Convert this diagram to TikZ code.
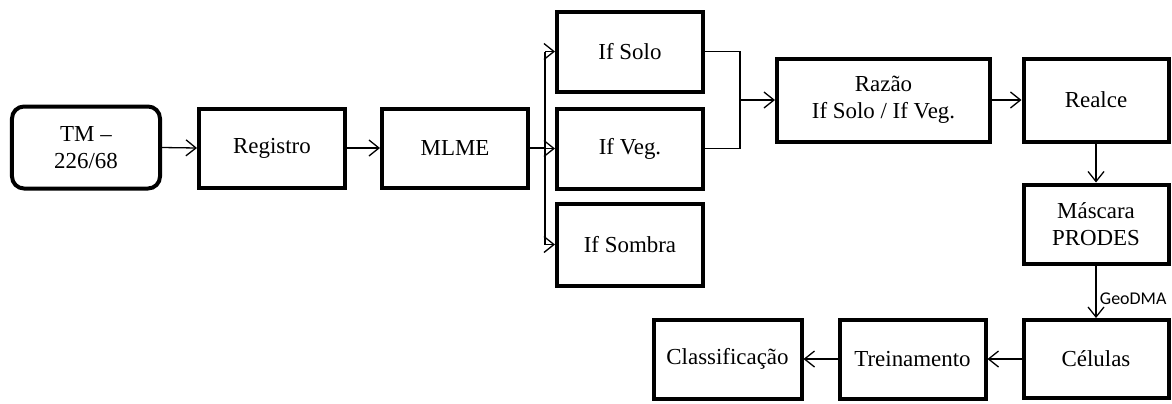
\documentclass[tikz,border=0pt]{standalone}
\usepackage{fontspec}
\setmainfont{Liberation Serif}
\newfontfamily\labelfont{Carlito}
\usetikzlibrary{arrows.meta}
\begin{document}
\begin{tikzpicture}[x=1bp,y=-1bp,
  box/.style={draw=black, line width=4bp, minimum width=#1, minimum height=79bp, inner sep=2bp,
    font=\fontsize{23}{27}\selectfont, align=center},
  box/.default=146bp,
  conn/.style={line width=1.3bp},
  arr/.style={line width=1.3bp, -{Straight Barb[length=10bp,width=16bp,line width=1.3bp]}}]
\useasboundingbox (0,0) rectangle (1172,403);
\node[box, rounded corners=12bp, minimum height=82bp, minimum width=148bp] (tm) at (86,147.5) {TM --\\226/68};
\node[box] (reg) at (272,148) {Registro};
\node[box] (mlme) at (455,148) {MLME};
\node[box, minimum height=80bp] (solo) at (630,51.5) {If Solo};
\node[box, minimum height=80bp] (veg) at (630,148.5) {If Veg.};
\node[box, minimum height=82bp] (sombra) at (630,244.5) {If Sombra};
\node[box=213bp, minimum height=83bp] (razao) at (883.5,100) {Razão\\If Solo / If Veg.};
\node[box=145bp, minimum height=83bp] (realce) at (1096,100) {Realce};
\node[box=145bp] (mascara) at (1096,224) {Máscara\\PRODES};
\node[box=145bp, minimum height=78bp] (celulas) at (1096,359) {Células};
\node[box] (trein) at (912.5,359) {Treinamento};
\node[box=148bp] (class) at (727.5,359) {Classificação};
\coordinate (bx) at (545,0);
\coordinate (mx) at (740,0);
\draw[arr] (tm.east) -- (reg.west);
\draw[arr] (reg.east) -- (mlme.west);
\draw[conn] (mlme.east) -- (mlme.east -| bx);
\draw[conn] (bx |- solo) -- (bx |- sombra);
\draw[arr] (bx |- solo) -- (solo.west);
\draw[arr] (bx |- veg) -- (veg.west);
\draw[arr] (bx |- sombra) -- (sombra.west);
\draw[conn] (solo.east) -- (solo.east -| mx) -- (veg.east -| mx) -- (veg.east);
\draw[arr] (mx |- razao) -- (razao.west);
\draw[arr] (razao.east) -- (realce.west);
\draw[arr] (realce.south) -- (mascara.north);
\draw[arr] (mascara.south) -- node[right, xshift=0bp, yshift=-7bp, font=\labelfont\fontsize{18}{20}\selectfont] (geo) {GeoDMA} (celulas.north);
\draw[arr] (celulas.west) -- (trein.east);
\draw[arr] (trein.west) -- (class.east);
\end{tikzpicture}
\end{document}
